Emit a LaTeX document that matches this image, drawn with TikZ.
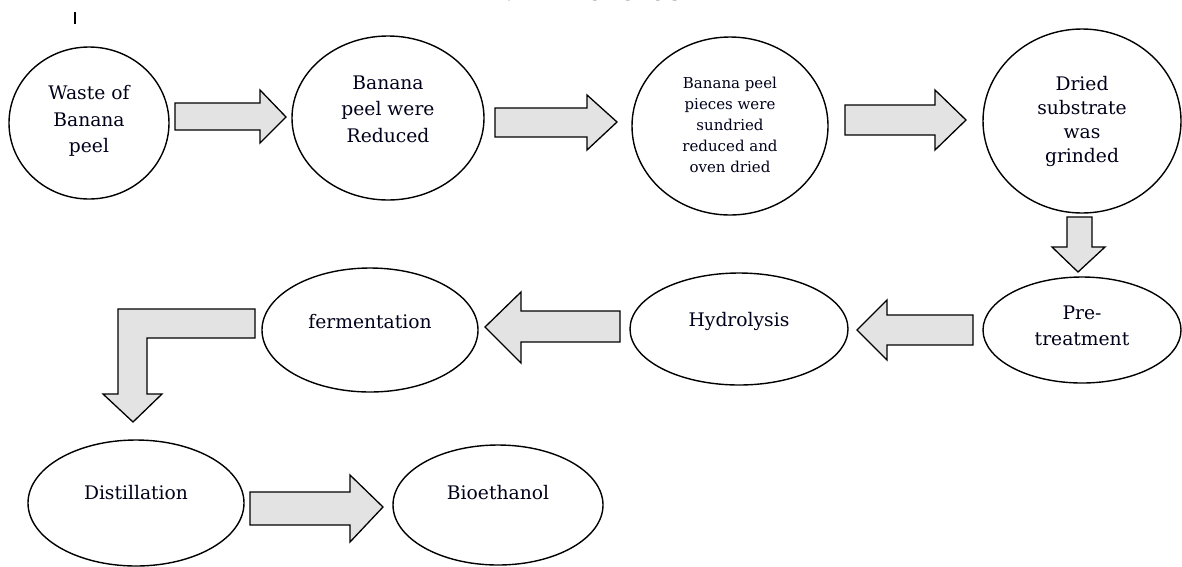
\documentclass[tikz,border=0pt]{standalone}
\usepackage{fontspec}
\setmainfont{DejaVu Serif}
\usetikzlibrary{shapes.geometric,calc}
\tikzset{
  stage/.style={draw=black, line width=1.4pt, ellipse, inner sep=0pt},
  txt/.style={align=center, font=\fontsize{18.7}{26.5}\selectfont, text=black!90!blue},
  small/.style={align=center, font=\fontsize{15}{21}\selectfont, text=black!90!blue},
  barrow/.style={draw=black, line width=1.3pt, fill=black!11, line join=miter},
}
\begin{document}
\begin{tikzpicture}[x=1pt,y=-1pt]
\useasboundingbox (0,0) rectangle (1182,566);
% title strip (cut off at top) and stray mark
\node[anchor=base, font=\bfseries\fontsize{19}{19}\selectfont, inner sep=0pt] (title) at (592,0.5) {II. METHODOLOGY};
\draw[line width=2.4pt] (75,12) -- (75,24);

% stages
\node[stage, minimum width=160pt, minimum height=152pt] (waste) at (89,123) {};
\node[stage, minimum width=192pt, minimum height=164pt] (reduced) at (388,118) {};
\node[stage, minimum width=196pt, minimum height=178pt] (sundried) at (730,126) {};
\node[stage, minimum width=198pt, minimum height=184pt] (grinded) at (1082,121) {};
\node[stage, minimum width=198pt, minimum height=106pt] (pretreat) at (1082,330) {};
\node[stage, minimum width=218pt, minimum height=112pt] (hydro) at (739,329) {};
\node[stage, minimum width=216pt, minimum height=124pt] (ferm) at (370,330) {};
\node[stage, minimum width=216pt, minimum height=126pt] (dist) at (136,503) {};
\node[stage, minimum width=210pt, minimum height=120pt] (bio) at (498,505) {};

% texts
\node[txt] (t1) at ($(waste.center)+(0,-2)$) {Waste of\\Banana\\peel};
\node[txt] (t2) at ($(reduced.center)+(0,-9)$) {Banana\\peel were\\Reduced};
\node[small] (t3) at ($(sundried.center)+(0,-1)$) {Banana peel\\pieces were\\sundried\\reduced and\\oven dried};
\node[txt, font=\fontsize{18.7}{24}\selectfont] (t4) at ($(grinded.center)+(0,0)$) {Dried\\substrate\\was\\grinded};
\node[txt] (t5) at ($(pretreat.center)+(0,-4)$) {Pre-\\treatment};
\node[txt] (t6) at ($(hydro.center)+(0,-8)$) {Hydrolysis};
\node[txt] (t7) at ($(ferm.center)+(0,-8)$) {fermentation};
\node[txt] (t8) at ($(dist.center)+(0,-10)$) {Distillation};
\node[txt] (t9) at ($(bio.center)+(0,-12)$) {Bioethanol};

% block arrows
\draw[barrow] (175,103) -- (260,103) -- (260,90) -- (286,117) -- (260,143) -- (260,130) -- (175,130) -- cycle;
\draw[barrow] (495,108) -- (587,108) -- (587,95) -- (617,122) -- (587,150) -- (587,137) -- (495,137) -- cycle;
\draw[barrow] (845,105) -- (935,105) -- (935,90) -- (966,120) -- (935,150) -- (935,135) -- (845,135) -- cycle;
\draw[barrow] (1067,217) -- (1092,217) -- (1092,247) -- (1105,247) -- (1078,272) -- (1052,247) -- (1067,247) -- cycle;
\draw[barrow] (973,315) -- (887,315) -- (887,300) -- (857,330) -- (887,360) -- (887,345) -- (973,345) -- cycle;
\draw[barrow] (620,311) -- (521,311) -- (521,292) -- (485,327) -- (521,363) -- (521,342) -- (620,342) -- cycle;
\draw[barrow] (255,309) -- (118,309) -- (118,394) -- (103,394) -- (133,422) -- (162,394) -- (147,394) -- (147,338) -- (255,338) -- cycle;
\draw[barrow] (250,492) -- (350,492) -- (350,475) -- (383,507) -- (350,542) -- (350,525) -- (250,525) -- cycle;
\end{tikzpicture}
\end{document}
